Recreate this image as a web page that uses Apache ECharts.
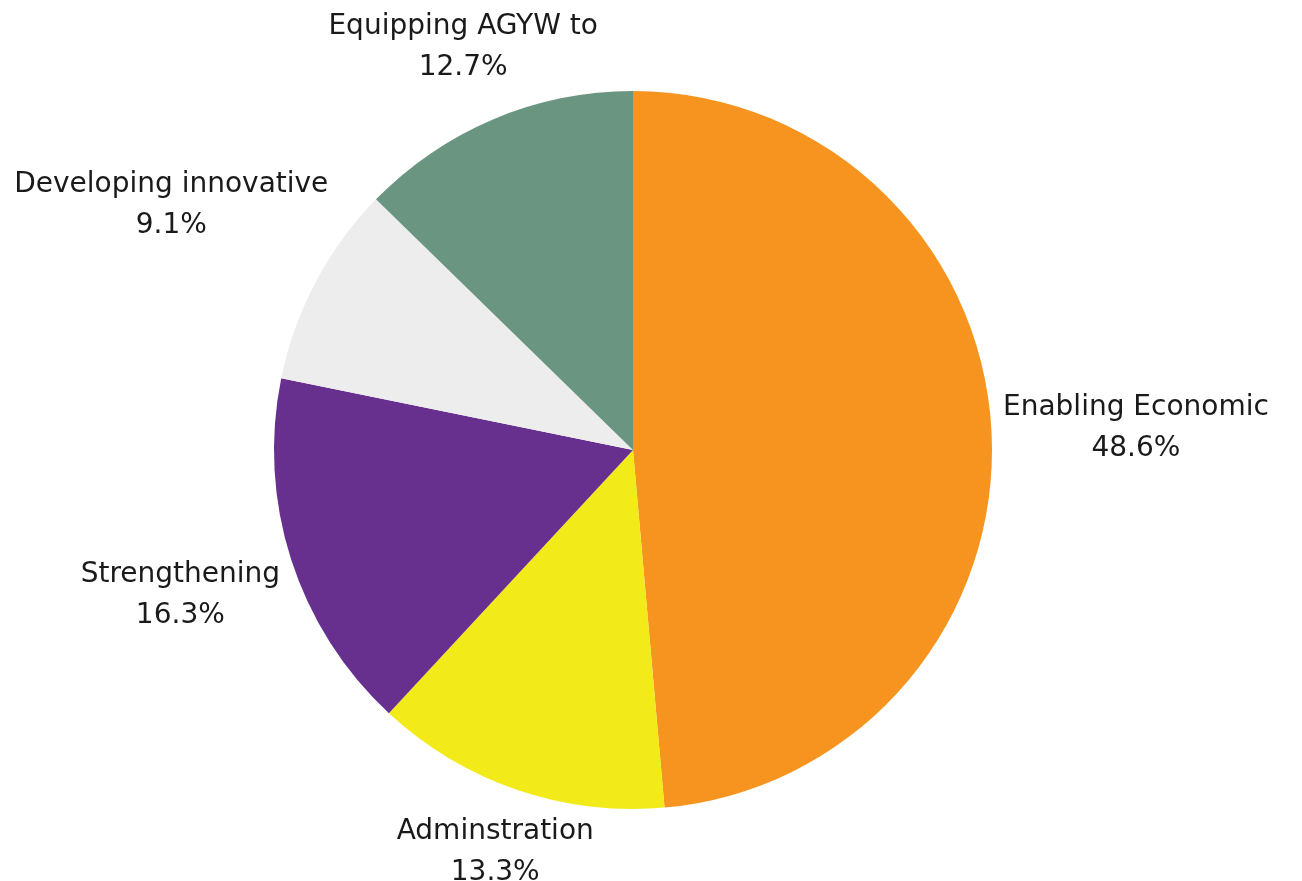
<!DOCTYPE html>
<html>
<head>
<meta charset="utf-8">
<script src="https://cdn.jsdelivr.net/npm/echarts@6/dist/echarts.min.js"></script>
<style>
html,body{margin:0;padding:0;background:#fff;}
#chart{width:1302px;height:881px;}
</style>
</head>
<body>
<div id="chart"></div>
<script>
const categories = ['Enabling Economic', 'Adminstration', 'Strengthening', 'Developing innovative', 'Equipping AGYW to'];
const values = [48.6, 13.3, 16.3, 9.1, 12.7];
const colors = ['#F7941F', '#F2EA19', '#67308F', '#EDEDED', '#6A9580'];

const CX = 633, CY = 450, R = 359, GAP = 11;
const total = values.reduce((a, b) => a + b, 0);
const midAngles = [];
let acc = 0;
values.forEach(v => { midAngles.push((acc + v / 2) / total * 2 * Math.PI); acc += v; });

function placeLabel(params) {
  const i = params.dataIndex;
  const ux = Math.sin(midAngles[i]), uy = -Math.cos(midAngles[i]);
  const hw = params.labelRect.width / 2, hh = params.labelRect.height / 2;
  const target = R + GAP;
  let lo = 0, hi = 2000;
  for (let k = 0; k < 60; k++) {
    const d = (lo + hi) / 2;
    const bx = CX + ux * d, by = CY + uy * d;
    const nx = Math.max(bx - hw, Math.min(CX, bx + hw));
    const ny = Math.max(by - hh, Math.min(CY, by + hh));
    const dist = Math.hypot(nx - CX, ny - CY);
    if (dist < target) lo = d; else hi = d;
  }
  const d = hi;
  return { x: CX + ux * d, y: CY + uy * d, align: 'center', verticalAlign: 'middle' };
}

const chart = echarts.init(document.getElementById('chart'), null, { renderer: 'canvas' });
chart.setOption({
  backgroundColor: '#ffffff',
  animation: false,
  series: [{
    type: 'pie',
    center: [CX, CY],
    radius: [0, R],
    startAngle: 90,
    clockwise: true,
    avoidLabelOverlap: false,
    data: categories.map((c, i) => ({ name: c, value: values[i], itemStyle: { color: colors[i] } })),
    itemStyle: { borderWidth: 0 },
    label: {
      show: true,
      position: 'outside',
      formatter: p => '{a|' + p.name + '}\n{a|' + p.value.toFixed(1) + '%}',
      rich: {
        a: { fontFamily: 'DejaVu Sans', fontSize: 28, lineHeight: 41, color: '#1a1a1a', align: 'center' }
      }
    },
    labelLine: { show: false },
    labelLayout: placeLabel,
    emphasis: { disabled: true }
  }]
});
</script>
</body>
</html>
